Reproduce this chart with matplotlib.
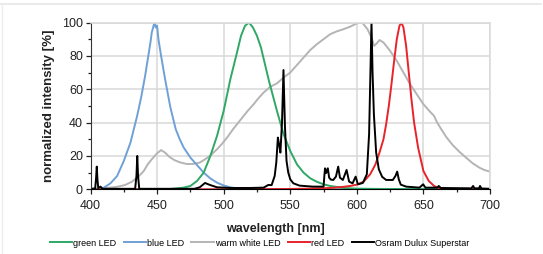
import matplotlib.pyplot as plt
from matplotlib.lines import Line2D
from matplotlib.ticker import MultipleLocator

plt.rcParams['font.family'] = ['Liberation Sans', 'DejaVu Sans']

# spectra (wavelength in nm, intensity in %)
wl_green = [400, 460, 470, 475, 480, 485, 490, 495, 500, 505, 510, 513, 516, 519, 522, 525, 528,
            531, 534, 537, 540, 545, 550, 555, 560, 565, 570, 575, 580, 590, 600, 620, 650, 700]
green = [0, 0.2, 1, 2, 5, 10, 20, 32, 47, 66, 82, 92, 98, 100, 97, 92, 85,
         75, 65, 56, 47, 33, 23, 15, 10, 6.6, 4.5, 3, 2, 0.8, 0.4, 0.2, 0.1, 0]

wl_blue = [400, 405, 410, 415, 420, 425, 430, 435, 438, 441, 443, 445, 446, 447, 448, 449, 450, 451,
           453, 456, 460, 464, 467, 470, 475, 480, 485, 490, 495, 500, 505, 510, 520, 540, 600, 700]
blue = [0, 0.2, 1, 3.6, 8, 17, 28, 44, 55, 68, 78, 88, 94, 97, 100, 97, 98, 90,
        80, 66, 49, 36, 30, 25, 19, 14.5, 10, 6.5, 4, 2.3, 1.2, 0.6, 0.2, 0.1, 0.05, 0]

wl_white = [400, 410, 420, 426, 431, 436, 440, 443, 446, 450, 453, 456, 459, 463, 467, 472, 477, 482,
            487, 491, 495, 499, 503, 507, 510, 514, 518, 522, 526, 530, 535, 540, 545, 550, 555, 560,
            565, 570, 575, 580, 585, 590, 595, 600, 604, 608, 611, 613, 615, 617, 620, 625, 630, 635,
            640, 645, 650, 655, 658, 660, 663, 667, 672, 677, 682, 687, 692, 696, 700]
white = [0.3, 0.6, 1.5, 2.6, 4.5, 7.6, 11, 15, 18, 21.6, 23.5, 22, 19.6, 17.5, 16.2, 15.2, 15.2, 16,
         18.5, 21, 24, 27.5, 31.5, 36, 39, 43, 47, 50.5, 54.5, 58, 61.5, 63.5, 67, 70, 74.5, 79,
         83.5, 87, 90, 93, 94.7, 96, 97.5, 99.5, 100, 96, 91, 86, 87.5, 89.5, 88, 83, 77, 70,
         63, 57, 51, 46.5, 44, 40.5, 36.5, 31.5, 26.5, 22.5, 19, 15.6, 13, 11.5, 10.6]

wl_red = [400, 500, 550, 570, 580, 590, 595, 600, 605, 610, 614, 617, 620, 622, 624, 626, 628, 630,
          632, 633.5, 635, 637, 639, 641, 643, 646, 650, 654, 658, 662, 666, 700]
red = [0, 0, 0.2, 0.5, 0.8, 1.5, 2, 2.8, 4.5, 9, 15, 22, 30, 39, 50, 63, 77, 90,
       98, 100, 97, 86, 70, 54, 40, 25, 11, 5, 2, 0.5, 0.1, 0]

wl_osram = [400, 403.5, 404.2, 404.7, 405.2, 405.8, 407.5, 409, 433.5, 434.5, 435.1, 435.7, 436.6,
            478, 482, 486, 489.7, 495, 505, 520, 530, 533.5, 536, 538.3, 539.5, 540.7, 541.6, 542.6,
            543.8, 544.9, 546, 547.2, 548.5, 550, 552.3, 557, 567, 575, 575.6, 576.1, 577, 578.2,
            579.2, 580.5, 582.3, 584.3, 586, 587.3, 589.5, 592.3, 594.2, 596.8, 599.1, 600.8, 604.5,
            607.5, 609.2, 610.2, 611, 611.8, 612.8, 614.5, 616.5, 619, 622, 627, 629, 630.3, 631.5,
            633, 637, 647, 649.8, 651.5, 660.5, 661.5, 663, 686, 687.3, 688.3, 691.8, 692.5, 693.5, 700]
osram = [0.3, 0.5, 7, 13.6, 6, 0.8, 1.6, 0.3, 0.3, 8, 20, 8, 0.3,
         0.3, 1.2, 3.8, 2.6, 1.2, 0.8, 0.8, 1, 2.6, 2.5, 8, 16, 31, 27, 22,
         40, 71.5, 38, 17, 10, 6, 3.6, 2.2, 1.6, 1.6, 8, 12.6, 9.8, 12.6,
         7, 5.8, 5.6, 7.6, 13.6, 7, 5.6, 11.6, 4.6, 3.6, 7.6, 3, 3.8,
         9, 33, 70, 100, 70, 45, 22, 12, 7.5, 5.6, 5.6, 8, 10.6, 6,
         2.8, 1.6, 1, 3, 1, 1, 2, 0.8, 0.6, 2, 0.6, 0.6, 2, 0.5, 0.3]

fig = plt.figure(figsize=(5.43, 2.54), dpi=100)
ax = fig.add_axes([0.1667, 0.2547, 0.7357, 0.6567])

lw = 1.4
l_white, = ax.plot(wl_white, white, color='#b4b4b4', lw=lw, label='warm white LED')
l_blue, = ax.plot(wl_blue, blue, color='#6fa0d6', lw=lw, label='blue LED')
l_green, = ax.plot(wl_green, green, color='#2fa866', lw=lw, label='green LED')
l_red, = ax.plot(wl_red, red, color='#e8232b', lw=lw, label='red LED')
l_osram, = ax.plot(wl_osram, osram, color='black', lw=lw, label='Osram Dulux Superstar')

ax.set_xlim(400, 700)
ax.set_ylim(0, 100)
ax.xaxis.set_major_locator(MultipleLocator(50))
ax.xaxis.set_minor_locator(MultipleLocator(25))
ax.yaxis.set_major_locator(MultipleLocator(20))
ax.yaxis.set_minor_locator(MultipleLocator(10))
ax.grid(True, which='major', color='#d9d9d9', lw=1.1)
ax.set_axisbelow(True)

ax.tick_params(which='major', direction='out', length=3.5, width=0.9, labelsize=9, colors='#222222', pad=2)
ax.tick_params(which='minor', direction='out', length=2.5, width=0.9, colors='#222222')
ax.tick_params(axis='x', pad=4)
for side in ['top', 'right']:
    ax.spines[side].set_color('#d9d9d9')
    ax.spines[side].set_linewidth(1.1)
ax.spines['left'].set_color('#333333')
ax.spines['bottom'].set_color('black')

ax.set_xlabel('wavelength [nm]', fontsize=9, fontweight='bold', color='#222222')
ax.xaxis.set_label_coords(0.462, -0.2)
ax.set_ylabel('normalized intensity [%]', fontsize=9.5, fontweight='bold', color='#222222', labelpad=5)

fig.legend(handles=[l_green, l_blue, l_white, l_red, l_osram], loc='center', ncol=5,
           bbox_to_anchor=(0.478, 1 - 243 / 254), frameon=False, fontsize=6.5,
           handlelength=2.5, handletextpad=0.1, columnspacing=0.8)

# light frame of the original page
fig.add_artist(Line2D([0, 0.997], [1 - 4 / 254, 1 - 4 / 254], color='#e6e6e6', lw=1.2))
fig.add_artist(Line2D([0.003, 0.003], [0, 1 - 4 / 254], color='#eeeeee', lw=1.0))

plt.savefig('out.png', dpi=100)
